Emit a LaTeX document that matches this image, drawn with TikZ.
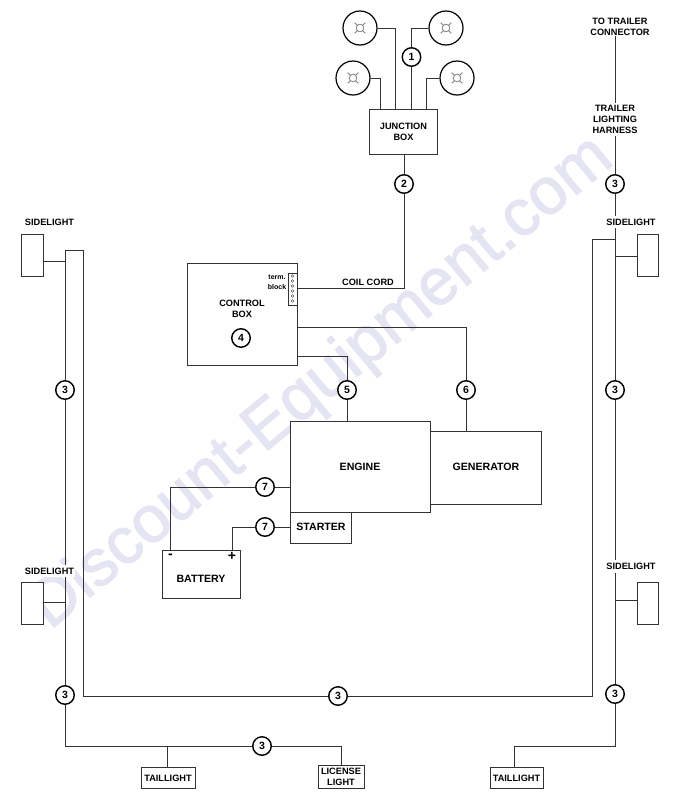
\documentclass[tikz,border=0pt]{standalone}
\usepackage{fontspec}
\setmainfont{Liberation Sans}
\newfontfamily\wmfont[FakeBold=1.6]{Liberation Sans}
\usetikzlibrary{calc}
\pgfdeclarelayer{wm}
\pgfdeclarelayer{wires}
\pgfsetlayers{wm,wires,main}
\definecolor{wmark}{HTML}{E4E4F2}
\definecolor{wirec}{HTML}{333333}
\tikzset{
  wire/.style={draw=wirec,line width=0.95pt},
  num/.style={circle,draw=black,line width=1.4pt,fill=white,minimum size=18.5pt,inner sep=0pt,font=\bfseries\fontsize{10.5}{10}\selectfont},
  lbl/.style={font=\bfseries\fontsize{9.2}{11}\selectfont,align=center,inner xsep=1pt,inner ysep=3pt},
  biglbl/.style={font=\bfseries\fontsize{10.6}{12}\selectfont,align=center,inner sep=1pt},
  smalllbl/.style={font=\bfseries\fontsize{7}{10}\selectfont,align=center,inner sep=0pt},
  box/.style={draw=wirec,line width=0.95pt,fill=white,inner sep=0pt,anchor=north west},
  lamp/.style={circle,draw=black,line width=1.2pt,fill=white,minimum size=34pt,inner sep=0pt},
  pin/.style={circle,draw=wirec,line width=0.4pt,minimum size=2.8pt,inner sep=0pt},
  lampmark/.style={draw=gray,line width=0.8pt},
  sign/.style={font=\bfseries\fontsize{14}{14}\selectfont,inner sep=0pt}
}
\newcommand{\lampglyph}[1]{%
  \draw[lampmark] (#1) circle (3.8);
  \foreach \a in {45,135,225,315}{\draw[lampmark] ($(#1)+(\a:3.8)$) -- ($(#1)+(\a:7.5)$);}
}
\begin{document}
\begin{tikzpicture}[x=1pt,y=-1pt]
\useasboundingbox (0,0) rectangle (675,801);
\begin{pgfonlayer}{wm}
\fill[white] (0,0) rectangle (675,801);
\node[rotate=39.6,text=wmark,font=\wmfont\fontsize{65.7}{66}\selectfont,inner sep=0pt] (wmtext) at (322,383.5) {Discount-Equipment.com};
\end{pgfonlayer}

% lamps
\node[lamp] (lampTL) at (360,28) {};
\node[lamp] (lampTR) at (446,28) {};
\node[lamp] (lampML) at (353,78) {};
\node[lamp] (lampMR) at (457,78) {};
\lampglyph{lampTL} \lampglyph{lampTR} \lampglyph{lampML} \lampglyph{lampMR}

% boxes
\node[box,minimum width=68pt,minimum height=45pt] (jbox) at (369,109) {};
\node[lbl,inner sep=0pt] at (403.5,131.5) {JUNCTION\\BOX};
\node[box,minimum width=110pt,minimum height=102pt] (ctrl) at (187,263) {};
\node[lbl,inner sep=0pt] at (242,308.5) {CONTROL\\BOX};
\node[box,minimum width=9pt,minimum height=32pt] (term) at (288,273) {};
\node[smalllbl] (termlbl) at (277,282) {term.\\block};
\foreach \i/\yy in {1/276,2/281,3/286,4/291,5/296,6/301}{\node[pin] (pin\i) at (292.5,\yy) {};}
\node[box,minimum width=140pt,minimum height=91pt] (engine) at (290,421) {};
\node[biglbl] at (360,467) {ENGINE};
\node[box,minimum width=111pt,minimum height=73pt] (gen) at (430,431) {};
\node[biglbl] at (486,467) {GENERATOR};
\node[box,minimum width=61pt,minimum height=31pt] (starter) at (290,512) {};
\node[biglbl] at (321,526.5) {STARTER};
\node[box,minimum width=78pt,minimum height=48pt] (batt) at (162,550) {};
\node[biglbl] at (201,579) {BATTERY};
\node[sign] at (170.5,556) {-};
\node[sign] at (232,556) {+};
\node[box,minimum width=22pt,minimum height=42pt] (sideLA) at (21,234) {};
\node[box,minimum width=22pt,minimum height=42pt] (sideLB) at (21,582) {};
\node[box,minimum width=21pt,minimum height=42pt] (sideRA) at (637,234) {};
\node[box,minimum width=21pt,minimum height=42pt] (sideRB) at (637,582) {};
\node[box,minimum width=54pt,minimum height=21pt] (tailL) at (141,767) {};
\node[lbl,inner sep=0pt] at (168,778) {TAILLIGHT};
\node[box,minimum width=46pt,minimum height=23pt] (lic) at (318,765) {};
\node[lbl,inner sep=0pt,font=\bfseries\fontsize{9.2}{11}\selectfont] at (341,777) {LICENSE\\LIGHT};
\node[box,minimum width=53pt,minimum height=21pt] (tailR) at (490,767) {};
\node[lbl,inner sep=0pt] at (516.5,778.5) {TAILLIGHT};

% text labels
\node[lbl] (lblLA) at (49.5,222) {SIDELIGHT};
\node[lbl,fill=white] (lblLB) at (49.5,571) {SIDELIGHT};
\node[lbl,fill=white] (lblRA) at (631,222) {SIDELIGHT};
\node[lbl,fill=white] (lblRB) at (631,566.5) {SIDELIGHT};
\node[lbl,inner sep=0pt] (conn) at (620,27) {TO TRAILER\\CONNECTOR};
\node[lbl,fill=white,inner sep=2pt] (harn) at (615,119.5) {TRAILER\\LIGHTING\\HARNESS};
\node[lbl,inner sep=0pt] (coil) at (368,282) {COIL CORD};

% numbered circles
\node[num] (n1) at (411.5,57) {1};
\node[num] (n2) at (404,184) {2};
\node[num] (n3R) at (615,184) {3};
\node[num] (n3L1) at (65,390) {3};
\node[num] (n3R1) at (615,390) {3};
\node[num] (n3L2) at (65,695) {3};
\node[num] (n3R2) at (615,694) {3};
\node[num] (n3B) at (338,696) {3};
\node[num] (n3C) at (262,746) {3};
\node[num] (n4) at (241,338) {4};
\node[num] (n5) at (347,390) {5};
\node[num] (n6) at (466,390) {6};
\node[num] (n7A) at (265,487) {7};
\node[num] (n7B) at (265,527) {7};

% free corners
\coordinate (topL) at (65,250);
\coordinate (topLi) at (83,250);
\coordinate (botLi) at (83,696);
\coordinate (botRi) at (592.5,696);
\coordinate (topRi) at (592.5,239);
\coordinate (midRi) at (615,239);
\coordinate (cornL) at (65,746);
\coordinate (cornR) at (615,746);
\coordinate (jb1) at (380,109);
\coordinate (jb2) at (395,109);
\coordinate (jb3) at (411.5,109);
\coordinate (jb4) at (426,109);

\begin{pgfonlayer}{wires}
\draw[wire] (lampTL.east) -| (jb2);
\draw[wire] (lampTR.west) -| (jb3);
\draw[wire] (lampML.east) -| (jb1);
\draw[wire] (lampMR.west) -| (jb4);
\draw[wire] (jbox.south -| n2) -- (n2) |- (297,288.5);
\draw[wire] (297,327) -| (n6) -- (gen.north -| n6);
\draw[wire] (297,356) -| (n5) -- (engine.north -| n5);
\draw[wire] (engine.west |- n7A) -- (n7A) -| (batt.north west -| 170.5,0);
\draw[wire] (starter.west |- n7B) -- (n7B) -| (batt.north west -| 232,0);
\draw[wire] (sideLA.east |- 0,261) -- (65,261);
\draw[wire] (sideLB.east |- 0,602) -- (65,602);
\draw[wire] (sideRA.west |- 0,256) -- (615,256);
\draw[wire] (sideRB.west |- 0,600) -- (615,600);
\draw[wire] (topLi) -- (topL) -- (n3L1) -- (n3L2) -- (cornL) -- (n3C) -| (lic.north);
\draw[wire] (topLi) -- (botLi) -- (n3B) -- (botRi) -- (topRi) -- (midRi);
\draw[wire] (tailL.north -| 167,0) -- (167,746);
\draw[wire] (conn.south -| n3R) -- (n3R) -- (n3R1) -- (n3R2) -- (cornR) -| (tailR.north -| 514,0);
\end{pgfonlayer}
\end{tikzpicture}
\end{document}
